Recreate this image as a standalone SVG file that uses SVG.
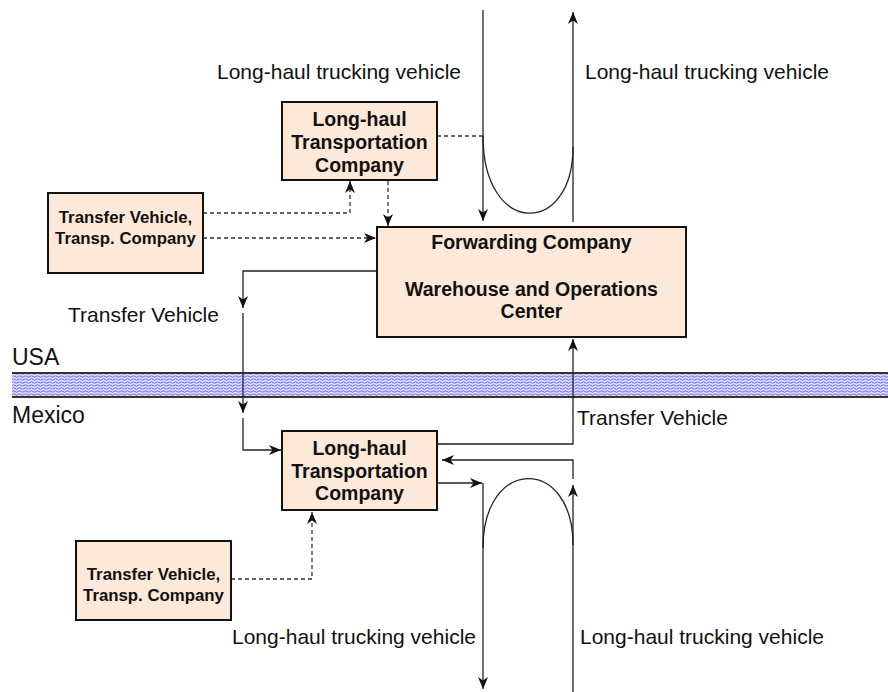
<svg xmlns="http://www.w3.org/2000/svg" width="888" height="692" viewBox="0 0 888 692">
<style>
.box{fill:#fde9d9;stroke:#111;stroke-width:2}
.bt{font-family:"Liberation Sans",Arial,sans-serif;font-weight:bold;font-size:19.5px;fill:#111;text-anchor:middle}
.st{font-family:"Liberation Sans",Arial,sans-serif;font-weight:bold;font-size:16.8px;fill:#111;text-anchor:middle}
.lbl{font-family:"Liberation Sans",Arial,sans-serif;font-size:21px;fill:#111}
.cty{font-family:"Liberation Sans",Arial,sans-serif;font-size:23px;fill:#111}
.ln{fill:none;stroke:#222;stroke-width:1.3}
.ds{fill:none;stroke:#333;stroke-width:1.3;stroke-dasharray:4 3}
</style>
<defs>
<marker id="ah" markerUnits="userSpaceOnUse" markerWidth="12" markerHeight="12" viewBox="0 0 12 12" refX="12" refY="6" orient="auto">
<path d="M0,1 L12,6 L0,11 L3.5,6 z" fill="#111" stroke="none"/>
</marker>
<pattern id="water" patternUnits="userSpaceOnUse" width="6" height="3">
<rect width="6" height="3" fill="#dcdcff"/>
<path d="M0,1.5 Q1.5,0 3,1.5 T6,1.5" fill="none" stroke="#5a5af2" stroke-width="0.9"/>
</pattern>
</defs>
<rect width="888" height="692" fill="#fff"/>

<g id="border">
<rect x="12" y="373" width="876" height="24" fill="url(#water)"/>
<line x1="12" y1="373" x2="888" y2="373" stroke="#333" stroke-width="2"/>
<line x1="12" y1="397" x2="888" y2="397" stroke="#333" stroke-width="2"/>
<text class="cty" x="12" y="365">USA</text>
<text class="cty" x="12" y="423">Mexico</text>
</g>

<g id="connectors">
<path class="ln" d="M483,10 V221" marker-end="url(#ah)"/>
<path class="ln" d="M573,222 V12" marker-end="url(#ah)"/>
<path class="ln" d="M483,136 C483,237 573,237 573,147"/>
<path class="ds" d="M437,136 H483"/>
<path class="ds" d="M203,213 H350 V181" marker-end="url(#ah)"/>
<path class="ds" d="M203,238 H376" marker-end="url(#ah)"/>
<path class="ds" d="M388,181 V226" marker-end="url(#ah)"/>
<path class="ln" d="M377,271 H243 V308" marker-end="url(#ah)"/>
<path class="ln" d="M243,313 V413" marker-end="url(#ah)"/>
<path class="ln" d="M243,418 V450 H281" marker-end="url(#ah)"/>
<path class="ln" d="M438,444 H573 V339" marker-end="url(#ah)"/>
<path class="ln" d="M573,692 V485" marker-end="url(#ah)"/>
<path class="ln" d="M573,479 V460 H442" marker-end="url(#ah)"/>
<path class="ln" d="M438,483 H482" marker-end="url(#ah)"/>
<path class="ln" d="M483,483 V689" marker-end="url(#ah)"/>
<path class="ln" d="M483,548 C483,456 573,456 573,545"/>
<path class="ds" d="M231,579 H312 V512" marker-end="url(#ah)"/>
</g>

<g id="labels">
<text class="lbl" x="217" y="79">Long-haul trucking vehicle</text>
<text class="lbl" x="585" y="79">Long-haul trucking vehicle</text>
<text class="lbl" x="68" y="322">Transfer Vehicle</text>
<text class="lbl" x="577" y="425">Transfer Vehicle</text>
<text class="lbl" x="232" y="644">Long-haul trucking vehicle</text>
<text class="lbl" x="580" y="644">Long-haul trucking vehicle</text>
</g>

<g id="lh-usa">
<rect class="box" x="282" y="102" width="155" height="78"/>
<text class="bt" x="359.5" y="126">Long-haul</text>
<text class="bt" x="359.5" y="149">Transportation</text>
<text class="bt" x="359.5" y="172">Company</text>
</g>

<g id="tv-usa">
<rect class="box" x="48" y="193" width="155" height="80"/>
<text class="st" x="125.5" y="223">Transfer Vehicle,</text>
<text class="st" x="125.5" y="244">Transp. Company</text>
</g>

<g id="forwarding">
<rect class="box" x="377" y="227" width="309" height="110"/>
<text class="bt" x="531.5" y="249">Forwarding Company</text>
<text class="bt" x="531.5" y="296">Warehouse and Operations</text>
<text class="bt" x="531.5" y="318">Center</text>
</g>

<g id="lh-mex">
<rect class="box" x="282" y="431" width="155" height="79"/>
<text class="bt" x="359.5" y="455">Long-haul</text>
<text class="bt" x="359.5" y="478">Transportation</text>
<text class="bt" x="359.5" y="500">Company</text>
</g>

<g id="tv-mex">
<rect class="box" x="76" y="541" width="155" height="79"/>
<text class="st" x="153.5" y="580">Transfer Vehicle,</text>
<text class="st" x="153.5" y="601">Transp. Company</text>
</g>
</svg>
